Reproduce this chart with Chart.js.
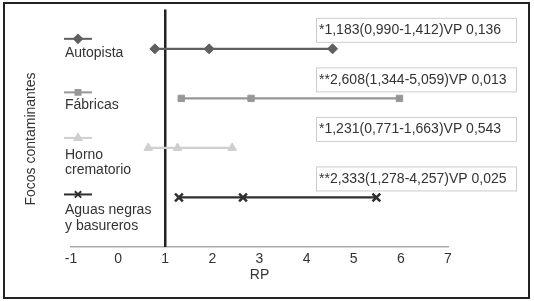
<!DOCTYPE html>
<html>
<head>
<meta charset="utf-8">
<script src="https://cdn.jsdelivr.net/npm/chart.js@4.4.0/dist/chart.umd.min.js"></script>
<style>
  html, body { margin: 0; padding: 0; background: #fff; }
  #wrap { width: 534px; height: 301px; position: relative; }
</style>
</head>
<body>
<div id="wrap"><canvas id="rpChart" width="534" height="301"></canvas></div>
<script>
// categorias (de arriba hacia abajo) y su posicion en el eje y
const categories = [['Autopista'], ['Fábricas'], ['Horno', 'crematorio'], ['Aguas negras', 'y basureros']];
const rowPos = [4, 3, 2, 1];
// valores: limite inferior, estimado, limite superior
const lower = [0.78, 1.34, 0.64, 1.29];
const estimate = [1.93, 2.82, 1.26, 2.65];
const upper = [4.55, 5.97, 2.42, 5.48];
// textos de los recuadros
const boxTexts = [
    '*1,183(0,990-1,412)VP 0,136',
    '**2,608(1,344-5,059)VP 0,013',
    '*1,231(0,771-1,663)VP 0,543',
    '**2,333(1,278-4,257)VP 0,025'
];
const refLine = 1;

const colors = ['#5f5f5f', '#979797', '#cfcfcf', '#2e2e2e'];
const shapes = ['rectRot', 'rect', 'triangle', 'crossRot'];
const radii = [5, 4.5, 5, 5.5];
const swatchDy = [-10, -6, -10, -3];
const textDy = [4, 7, 7, 13];
const FONT = '"Liberation Sans", Arial, sans-serif';

const datasets = categories.map((c, i) => ({
    label: c.join(' '),
    data: [lower[i], estimate[i], upper[i]].map(v => ({ x: v, y: rowPos[i] })),
    showLine: true,
    borderColor: colors[i],
    backgroundColor: colors[i],
    borderWidth: 2.2,
    pointStyle: shapes[i],
    pointRadius: radii[i],
    pointBorderWidth: i === 3 ? 2.5 : 1,
    pointBorderColor: colors[i],
    pointBackgroundColor: colors[i]
}));

// linea vertical en RP = 1
datasets.push({
    label: 'ref',
    data: [{ x: refLine, y: 0 }, { x: refLine, y: 4.8 }],
    showLine: true,
    borderColor: '#222',
    borderWidth: 2.5,
    pointRadius: 0
});

const decor = {
    id: 'decor',
    afterDraw(chart) {
        const ctx = chart.ctx;
        const ys = chart.scales.y;
        ctx.save();
        // marco exterior
        ctx.strokeStyle = '#222';
        ctx.lineWidth = 2;
        ctx.strokeRect(4, 3, 525, 295);

        // titulo eje y
        ctx.fillStyle = '#333';
        ctx.font = '14px ' + FONT;
        ctx.textAlign = 'center';
        ctx.textBaseline = 'middle';
        ctx.save();
        ctx.translate(31, 139);
        ctx.rotate(-Math.PI / 2);
        ctx.fillText('Focos contaminantes', 0, 0);
        ctx.restore();

        categories.forEach((lines, i) => {
            const yr = ys.getPixelForValue(rowPos[i]);
            // muestra de la serie
            const sy = yr + swatchDy[i];
            ctx.strokeStyle = colors[i];
            ctx.fillStyle = colors[i];
            ctx.lineWidth = 2;
            ctx.beginPath();
            ctx.moveTo(64, sy);
            ctx.lineTo(92, sy);
            ctx.stroke();
            Chart.helpers.drawPoint(ctx, {
                pointStyle: shapes[i], radius: radii[i] - 1, borderWidth: i === 3 ? 2.5 : 1
            }, 78, sy);

            // nombre de la categoria
            ctx.fillStyle = '#333';
            ctx.textAlign = 'left';
            ctx.textBaseline = 'middle';
            lines.forEach((t, k) => ctx.fillText(t, 65, yr + textDy[i] + k * 15.5));

            // recuadro con el texto
            const top = yr - 31;
            ctx.fillStyle = '#fff';
            ctx.fillRect(316, top, 200, 24);
            ctx.strokeStyle = '#cccccc';
            ctx.lineWidth = 1;
            ctx.strokeRect(316.5, top + 0.5, 200, 24);
            ctx.fillStyle = '#333';
            ctx.fillText(boxTexts[i], 319, top + 12.5);
        });
        ctx.restore();
    }
};

new Chart(document.getElementById('rpChart'), {
    type: 'scatter',
    data: { datasets },
    options: {
        responsive: false,
        animation: false,
        layout: { padding: { left: 71, right: 86, top: 9.2, bottom: 19 } },
        plugins: { legend: { display: false }, tooltip: { enabled: false } },
        scales: {
            x: {
                min: -1,
                max: 7,
                ticks: { stepSize: 1, color: '#333', padding: 5, font: { family: FONT, size: 14, lineHeight: 1 } },
                grid: { display: false, drawTicks: false },
                border: { display: true, color: '#aaaaaa', width: 1.5 },
                title: { display: true, text: 'RP', color: '#333', padding: { top: -3, bottom: 0 }, font: { family: FONT, size: 14, lineHeight: 1 } }
            },
            y: { display: false, min: 0, max: 4.8 }
        }
    },
    plugins: [decor]
});
</script>
</body>
</html>
